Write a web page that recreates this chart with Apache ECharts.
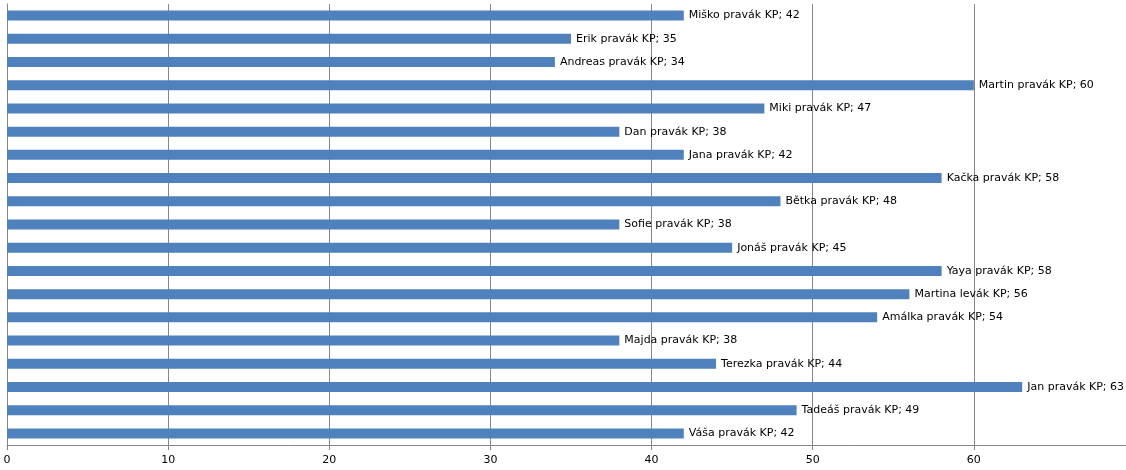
<!DOCTYPE html>
<html><head><meta charset="utf-8">
<script src="https://cdn.jsdelivr.net/npm/echarts@6/dist/echarts.min.js"></script>
<style>html,body{margin:0;padding:0;background:#fff;overflow:hidden;width:1126px;height:470px}#c{width:1145px;height:470px}</style>
</head><body><div id="c"></div>
<script>
const categories = ["Miško pravák KP","Erik pravák KP","Andreas pravák KP","Martin pravák KP","Miki pravák KP","Dan pravák KP","Jana pravák KP","Kačka pravák KP","Bětka pravák KP","Sofie pravák KP","Jonáš pravák KP","Yaya pravák KP","Martina levák KP","Amálka pravák KP","Majda pravák KP","Terezka pravák KP","Jan pravák KP","Tadeáš pravák KP","Váša pravák KP"];
const values = [42,35,34,60,47,38,42,58,48,38,45,58,56,54,38,44,63,49,42];

const chart = echarts.init(document.getElementById('c'));
chart.setOption({
  animation: false,
  grid: {left: 7, width: 1130, top: 4, height: 441, containLabel: false},
  xAxis: {
    type: 'value', min: 0, max: 70, interval: 10,
    axisLine: {show: true, lineStyle: {color: '#868686', width: 1}},
    axisTick: {show: true, length: 5, lineStyle: {color: '#868686'}},
    axisLabel: {color: '#000', fontFamily: 'DejaVu Sans', fontSize: 11, margin: 10},
    splitLine: {show: true, lineStyle: {color: '#868686', width: 1}}
  },
  yAxis: {
    type: 'category', data: categories, inverse: true,
    axisLine: {show: true, lineStyle: {color: '#868686', width: 1}},
    axisTick: {show: false},
    axisLabel: {show: false},
    splitLine: {show: false}
  },
  series: [{
    type: 'bar', data: values, barWidth: 10,
    itemStyle: {color: '#4F81BD'},
    label: {
      show: true, position: 'right', distance: 5,
      color: '#000', fontFamily: 'DejaVu Sans', fontSize: 11,
      formatter: p => p.name + '; ' + p.value
    }
  }]
});
</script></body></html>
